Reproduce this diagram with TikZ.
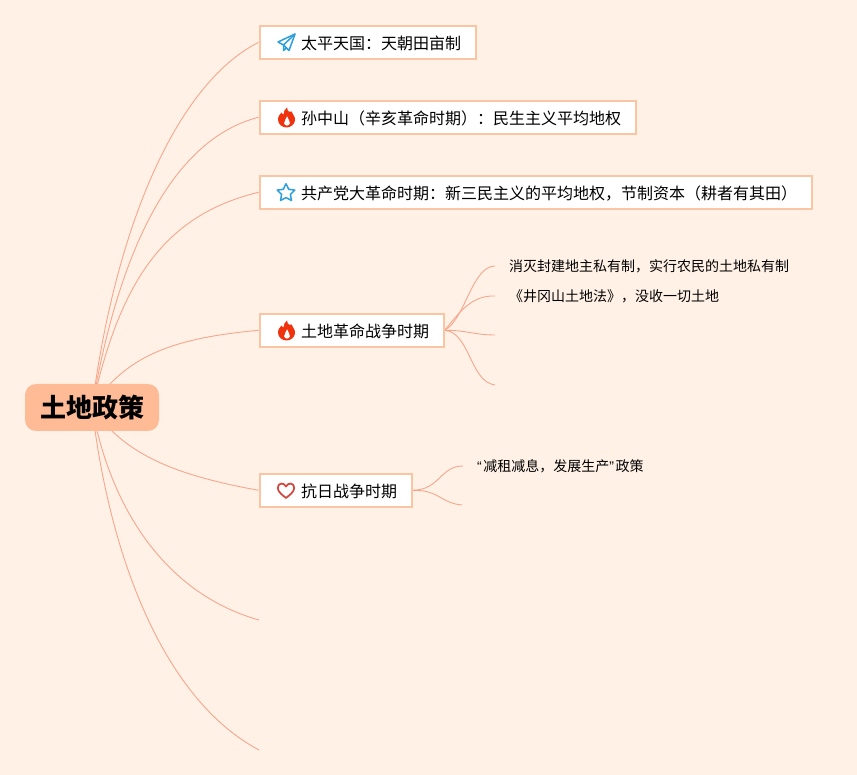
\documentclass[tikz,border=0pt]{standalone}
\usepackage{fontspec}
\setmainfont{Noto Sans CJK SC}
\newfontfamily\quotefont{Liberation Sans}
\usetikzlibrary{backgrounds}
\definecolor{pagebg}{HTML}{FFF1E6}
\definecolor{boxline}{HTML}{FBC4A3}
\definecolor{rootfill}{HTML}{FFBB96}
\definecolor{branchline}{HTML}{F7A68C}
\definecolor{iconblue}{HTML}{2E9FD8}
\definecolor{iconred}{HTML}{F0330F}
\definecolor{iconheart}{HTML}{CF4A43}
\tikzset{
    topicbox/.style={draw=boxline, line width=2pt, fill=white, anchor=west, inner xsep=14.5pt, inner ysep=0pt, minimum height=33.5pt, text height=17.2pt, text depth=3pt, font=\fontsize{16}{20}\selectfont},
    subtext/.style={anchor=west, inner xsep=14pt, inner ysep=0pt, font=\fontsize{14}{18}\selectfont},
    rootbox/.style={fill=rootfill, rounded corners=11pt, minimum width=134pt, minimum height=47pt, inner sep=0pt, font=\fontsize{26}{30}\selectfont\bfseries},
    branch/.style={draw=branchline, line width=0.9pt},
    planeicon/.pic={
        \draw[iconblue, line width=1.5pt, line join=round] (8.5,-8.5) -- (-8.5,-0.5) -- (-3,2.5) -- (2.5,8) -- cycle;
        \draw[iconblue, line width=1.5pt, line join=round] (8.5,-8.5) -- (-3,2.5) -- (-3,8) -- (0,5.5);
    },
    flameicon/.pic={
        \fill[iconred, even odd rule] (0.5,-10) .. controls (1,-5) and (4,-5) .. (5,-6) .. controls (6,-3) and (9,-1) .. (8.5,3) .. controls (8,7) and (4,10) .. (0,10) .. controls (-4,10) and (-8.5,7) .. (-8.5,2) .. controls (-8.5,-2) and (-6,-3) .. (-5,-5) .. controls (-4,-3.5) and (-3.5,-3) .. (-3,-3) .. controls (-3,-6) and (-1.5,-8.5) .. (0.5,-10) -- cycle
        (0.5,-1.5) .. controls (0,1.5) and (-3,3.5) .. (-2.5,6) .. controls (-2,8.8) and (3,8.8) .. (3.5,6) .. controls (4,3.5) and (1.5,1.5) .. (0.5,-1.5) -- cycle;
    },
    staricon/.pic={
        \draw[iconblue, line width=1.5pt, line join=round] (0,-8.8) -- (2.7,-3.2) -- (8.8,-2.4) -- (4.4,1.9) -- (5.5,8) -- (0,5.1) -- (-5.5,8) -- (-4.4,1.9) -- (-8.8,-2.4) -- (-2.7,-3.2) -- cycle;
    },
    hearticon/.pic={
        \draw[iconheart, line width=1.8pt, line join=round] (0,7.5) .. controls (-3,5) and (-8.2,1.5) .. (-8.2,-2.5) .. controls (-8.2,-8) and (-2,-8.3) .. (0,-4) .. controls (2,-8.3) and (8.2,-8) .. (8.2,-2.5) .. controls (8.2,1.5) and (3,5) .. (0,7.5) -- cycle;
    }
}
\begin{document}
\begin{tikzpicture}[x=1pt, y=-1pt]
    \useasboundingbox (0,0) rectangle (857,775);

    % Root and topics
    \node[rootbox] (root) at (92,407.5) {土地政策};
    \node[topicbox] (taiping) at (258.5,42.3) {\hspace*{27pt}太平天国：天朝田亩制};
    \node[topicbox] (sun) at (258.5,117.3) {\hspace*{27pt}孙中山（辛亥革命时期）：民生主义平均地权};
    \node[topicbox] (party) at (258.5,192.3) {\hspace*{27pt}共产党大革命时期：新三民主义的平均地权，节制资本（耕者有其田）};
    \node[topicbox] (landwar) at (258.5,330.3) {\hspace*{27pt}土地革命战争时期};
    \node[topicbox] (antijp) at (258.5,490.3) {\hspace*{27pt}抗日战争时期};
    \coordinate (empty1) at (259,620);
    \coordinate (empty2) at (259,750);

    % Icons
    \pic at (286.5,42.5) {planeicon};
    \pic at (286.5,117.5) {flameicon};
    \pic at (286,192.5) {staricon};
    \pic at (286.5,330.5) {flameicon};
    \pic at (286,490.5) {hearticon};

    % Leaves
    \node[subtext] (land1) at (495,266) {消灭封建地主私有制，实行农民的土地私有制};
    \node[subtext] (land2) at (495,296) {《井冈山土地法》，没收一切土地};
    \coordinate (land3) at (495,335);
    \coordinate (land4) at (495,385);
    \node[subtext] (rent1) at (463,466) {{\quotefont “}\hspace{1.5pt}减租减息，发展生产{\quotefont ”}\hspace{1.5pt}政策};
    \coordinate (rent2) at (462,505);

    % Branches
    \begin{scope}[on background layer]
        \fill[pagebg] (0,0) rectangle (857,775);
        \draw[branch] (root.center) .. controls (115,230) and (175,85) .. (taiping.west);
        \draw[branch] (root.center) .. controls (118,255) and (170,140) .. (sun.west);
        \draw[branch] (root.center) .. controls (120,280) and (165,215) .. (party.west);
        \draw[branch] (root.center) .. controls (125,355) and (175,338) .. (landwar.west);
        \draw[branch] (root.center) .. controls (125,455) and (175,475) .. (antijp.west);
        \draw[branch] (root.center) .. controls (112,515) and (170,595) .. (empty1);
        \draw[branch] (root.center) .. controls (110,560) and (165,700) .. (empty2);
        \draw[branch] (landwar.east) .. controls (465,320) and (472,266) .. (land1.west);
        \draw[branch] (landwar.east) .. controls (458,315) and (470,295) .. (land2.west);
        \draw[branch] (landwar.east) .. controls (465,330) and (475,335) .. (land3);
        \draw[branch] (landwar.east) .. controls (470,332) and (470,382) .. (land4);
        \draw[branch] (antijp.east) .. controls (440,490) and (440,466) .. (rent1.west);
        \draw[branch] (antijp.east) .. controls (440,490) and (440,503) .. (rent2);
    \end{scope}
\end{tikzpicture}
\end{document}
